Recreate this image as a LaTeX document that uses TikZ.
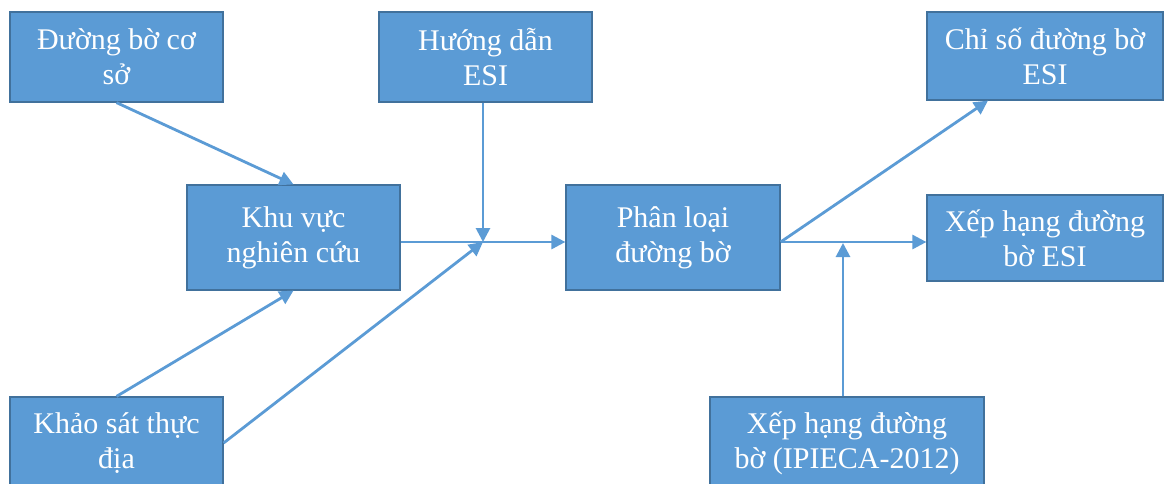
\documentclass[tikz,border=0pt]{standalone}
\usepackage{fontspec}
\setmainfont{Liberation Serif}
\usetikzlibrary{arrows.meta}
\definecolor{boxfill}{HTML}{5B9BD5}
\definecolor{boxline}{HTML}{41719C}
\begin{document}
\begin{tikzpicture}[x=0.5pt,y=-0.5pt,
  box/.style={draw=boxline,fill=boxfill,line width=0.6pt,text=white,align=center,
    inner sep=0pt,font=\fontsize{15}{17.5}\selectfont},
  link/.style={draw=boxfill,line width=1.4pt},
  arr/.style={link,-{Triangle[length=7pt,width=7pt]}}]
  \useasboundingbox (0,0) rectangle (1164,483);
  \node[box,minimum width=106.5pt,minimum height=45pt] (B1) at (116.5,57) {Đường bờ cơ\\sở};
  \node[box,minimum width=106.5pt,minimum height=45pt] (B2) at (485.5,57) {Hướng dẫn\\ESI};
  \node[box,minimum width=118pt,minimum height=44pt] (B3) at (1045,56) {Chỉ số đường bờ\\ESI};
  \node[box,minimum width=106.5pt,minimum height=52.5pt] (B4) at (293.5,237.5) {Khu vực\\nghiên cứu};
  \node[box,minimum width=107pt,minimum height=52.5pt] (B5) at (673,237.5) {Phân loại\\đường bờ};
  \node[box,minimum width=118pt,minimum height=43pt] (B6) at (1045,238) {Xếp hạng đường\\bờ ESI};
  \node[box,minimum width=106.5pt,minimum height=46pt] (B7) at (116.5,443) {Khảo sát thực\\địa};
  \node[box,minimum width=137pt,minimum height=46pt] (B8) at (847,443) {Xếp hạng đường\\bờ (IPIECA-2012)};

  \coordinate (J) at (483,242);
  \coordinate (M) at (843,243);

  \draw[arr] (B1.south) -- (B4.north);
  \draw[arr] (B7.north) -- (B4.south);
  \draw[link] (B4.east |- J) -- (J);
  \draw[arr] (B2.south -| J) -- (J);
  \draw[arr] (B7.east) -- (J);
  \draw[arr] (J) -- (B5.west |- J);
  \draw[arr] (B5.east |- J) -- ([xshift=-28.5pt]B3.south);
  \draw[arr] (B5.east |- J) -- (B6.west |- J);
  \draw[arr] (B8.north -| M) -- (M);
\end{tikzpicture}
\end{document}
